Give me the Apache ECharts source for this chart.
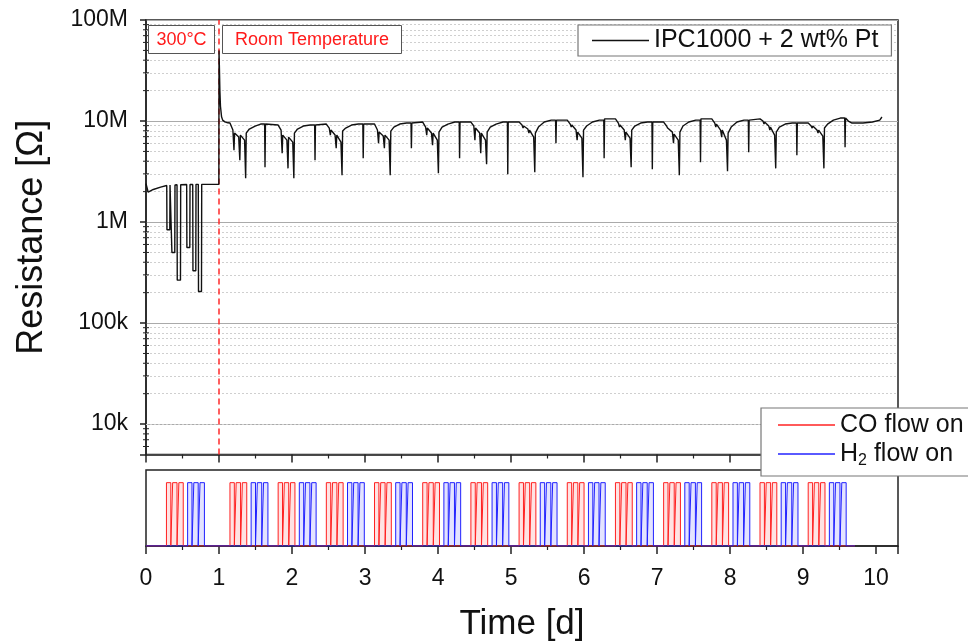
<!DOCTYPE html>
<html><head><meta charset="utf-8">
<script src="https://cdn.jsdelivr.net/npm/echarts@6/dist/echarts.min.js"></script>
<style>html,body{margin:0;padding:0;background:#fff}#c{width:968px;height:644px}</style>
</head><body><div id="c"></div>
<script>
// ---- Data (time in days, resistance in MΩ) ----
const resTime = [
  0, 0.03, 0.1, 0.2, 0.284, 0.287, 0.326, 0.329,
  0.352, 0.355, 0.394, 0.397, 0.425, 0.428, 0.472, 0.475,
  0.557, 0.56, 0.6, 0.603, 0.64, 0.643, 0.682, 0.685,
  0.716, 0.719, 0.76, 0.763, 0.9, 0.998,
  1.0, 1.005, 1.012, 1.02, 1.035, 1.05, 1.08, 1.12,
  1.15, 1.19, 1.205, 1.213, 1.27, 1.285, 1.293, 1.35, 1.365, 1.373, 1.415, 1.495, 1.57, 1.625, 1.63, 1.636,
  1.81, 1.85, 1.865, 1.873, 1.93, 1.945, 1.953, 2.01, 2.025, 2.033, 2.075, 2.155, 2.25, 2.31, 2.315, 2.321,
  2.47, 2.51, 2.525, 2.533, 2.59, 2.605, 2.613, 2.67, 2.685, 2.693, 2.735, 2.815, 2.91, 2.97, 2.975, 2.981,
  3.13, 3.17, 3.185, 3.193, 3.25, 3.265, 3.273, 3.33, 3.345, 3.353, 3.395, 3.475, 3.57, 3.63, 3.635, 3.641,
  3.79, 3.83, 3.845, 3.853, 3.91, 3.925, 3.933, 3.99, 4.005, 4.013, 4.055, 4.135, 4.23, 4.29, 4.295, 4.301,
  4.45, 4.49, 4.505, 4.513, 4.57, 4.585, 4.593, 4.65, 4.665, 4.673, 4.715, 4.795, 4.89, 4.95, 4.955, 4.961,
  5.11, 5.15, 5.165, 5.173, 5.23, 5.245, 5.253, 5.31, 5.325, 5.333, 5.375, 5.455, 5.55, 5.61, 5.615, 5.621,
  5.77, 5.81, 5.825, 5.833, 5.89, 5.905, 5.913, 5.97, 5.985, 5.993, 6.035, 6.115, 6.21, 6.27, 6.275, 6.281,
  6.43, 6.47, 6.485, 6.493, 6.55, 6.565, 6.573, 6.63, 6.645, 6.653, 6.695, 6.775, 6.87, 6.93, 6.935, 6.941,
  7.09, 7.13, 7.145, 7.153, 7.21, 7.225, 7.233, 7.29, 7.305, 7.313, 7.355, 7.435, 7.53, 7.59, 7.595, 7.601,
  7.75, 7.79, 7.805, 7.813, 7.87, 7.885, 7.893, 7.95, 7.965, 7.973, 8.015, 8.095, 8.19, 8.25, 8.255, 8.261,
  8.41, 8.45, 8.465, 8.473, 8.53, 8.545, 8.553, 8.61, 8.625, 8.633, 8.675, 8.755, 8.85, 8.91, 8.915, 8.921,
  9.07, 9.11, 9.125, 9.133, 9.19, 9.205, 9.213, 9.27, 9.285, 9.293, 9.335, 9.415, 9.51, 9.57, 9.575, 9.581,
  9.62, 9.67, 9.82, 9.95, 10.05, 10.08
];
const resValue = [
  2.40, 1.98, 2.10, 2.22, 2.30, 0.84, 0.84, 2.32,
  2.33, 0.50, 0.50, 2.33, 2.34, 0.266, 0.266, 2.34,
  2.35, 0.56, 0.56, 2.35, 2.35, 0.33, 0.33, 2.36,
  2.36, 0.205, 0.205, 2.36, 2.36, 2.37,
  50, 35, 20, 14, 11, 10.2, 9.8, 9.6,
  9.55, 8.14, 5.14, 7.60, 6.93, 4.09, 7.26, 6.47, 2.71, 7.60, 8.33, 8.92, 9.33, 9.33, 3.48, 9.33,
  9.12, 8.14, 4.80, 7.26, 6.47, 3.40, 6.93, 6.18, 2.71, 7.60, 8.33, 8.92, 9.12, 9.12, 4.09, 9.12,
  9.33, 8.52, 7.26, 8.14, 7.26, 5.39, 7.26, 6.18, 2.90, 7.95, 8.52, 9.12, 9.33, 9.33, 4.28, 9.33,
  9.33, 8.14, 6.04, 7.77, 7.10, 5.39, 7.26, 6.47, 2.90, 7.95, 8.71, 9.33, 9.55, 9.55, 5.39, 9.55,
  9.77, 8.71, 7.26, 8.52, 7.60, 5.77, 7.60, 6.47, 3.04, 7.77, 8.71, 9.33, 9.77, 9.77, 4.28, 9.77,
  9.77, 8.92, 6.47, 8.52, 7.60, 4.80, 7.60, 6.47, 3.73, 7.77, 8.71, 9.33, 9.77, 9.77, 2.97, 9.77,
  9.77, 9.12, 8.52, 8.92, 8.33, 7.60, 8.14, 6.93, 3.11, 7.60, 8.71, 9.77, 10.2, 10.2, 6.04, 10.2,
  10.2, 9.33, 8.71, 9.12, 8.14, 6.47, 7.77, 6.77, 2.77, 8.14, 8.92, 9.77, 10.2, 10.2, 4.28, 10.5,
  10.5, 9.55, 8.71, 9.12, 8.14, 6.47, 7.77, 6.77, 3.48, 8.14, 8.92, 9.55, 9.77, 9.77, 3.33, 9.77,
  9.77, 8.92, 8.52, 8.71, 7.77, 6.04, 7.43, 6.47, 2.90, 7.77, 8.92, 9.77, 10.2, 10.2, 3.91, 10.5,
  10.5, 9.55, 8.71, 9.33, 8.14, 6.93, 8.14, 6.47, 3.18, 7.60, 8.71, 9.77, 10.2, 10.2, 4.91, 10.2,
  10.5, 10.0, 9.33, 9.77, 8.92, 8.14, 8.71, 7.26, 3.40, 7.77, 8.71, 9.33, 9.55, 9.55, 4.59, 9.55,
  9.55, 8.92, 8.52, 8.92, 8.14, 7.60, 8.14, 7.10, 3.40, 8.52, 9.33, 10.2, 10.7, 10.7, 5.51, 10.7,
  10.0, 9.55, 9.55, 9.77, 10.2, 10.96
];
// gas pulse groups (start of each group of three pulses, days)
const coGroupStart = [0.28, 1.15, 1.81, 2.47, 3.13, 3.79, 4.45, 5.11, 5.77, 6.43, 7.09, 7.75, 8.41, 9.07];
const h2GroupStart = [0.57, 1.44, 2.10, 2.76, 3.42, 4.08, 4.74, 5.40, 6.06, 6.72, 7.38, 8.04, 8.70, 9.36];
const pulseOffset = [0, 0.085, 0.17];
const pulseWidth = 0.06;
const flowEnd = 9.71;
const tempSwitch = 1;
// y axis (MΩ): decade ticks and minor grid values
const yTickLabels = {'0.01': '10k', '0.1': '100k', '1': '1M', '10': '10M', '100': '100M'};
const yMinor = [0.006, 0.007, 0.008, 0.009,
  0.02, 0.03, 0.04, 0.05, 0.06, 0.07, 0.08, 0.09,
  0.2, 0.3, 0.4, 0.5, 0.6, 0.7, 0.8, 0.9,
  2, 3, 4, 5, 6, 7, 8, 9,
  20, 30, 40, 50, 60, 70, 80, 90];
const seriesName = 'IPC1000 + 2 wt% Pt';

function pulses(starts) {
  const d = [[0, 0]];
  starts.forEach(s => pulseOffset.forEach(o => {
    d.push([+(s + o).toFixed(3), 1], [+(s + o + pulseWidth).toFixed(3), 0]);
  }));
  d.push([flowEnd, 0]);
  return d;
}
const resData = resTime.map((t, i) => [t, resValue[i]]);

const FONT = 'Liberation Sans, Arial, sans-serif';
const chart = echarts.init(document.getElementById('c'), null, {renderer: 'canvas'});
const axisCol = '#222';
chart.setOption({
  animation: false,
  backgroundColor: '#fff',
  textStyle: {fontFamily: FONT},
  grid: [
    {left: 146, right: 70, top: 20, height: 434.5, show: true, borderColor: axisCol, borderWidth: 1.5, backgroundColor: 'transparent'},
    {left: 146, right: 70, top: 470, height: 76, show: true, borderColor: axisCol, borderWidth: 1.5, backgroundColor: 'transparent'}
  ],
  xAxis: [
    {gridIndex: 0, type: 'value', min: 0, max: 10.3, interval: 1,
     axisLine: {show: true, onZero: false, lineStyle: {color: axisCol, width: 1.5}},
     axisTick: {show: true, inside: false, length: 8, lineStyle: {color: axisCol, width: 1.5}},
     minorTick: {show: true, splitNumber: 2, length: 4, lineStyle: {color: axisCol, width: 1.2}},
     axisLabel: {show: false}, splitLine: {show: false}},
    {gridIndex: 1, type: 'value', min: 0, max: 10.3, interval: 1,
     name: 'Time [d]', nameLocation: 'middle', nameGap: 61,
     nameTextStyle: {fontSize: 35, color: '#111', fontFamily: FONT},
     axisLine: {show: true, onZero: false, lineStyle: {color: axisCol, width: 1.5}},
     axisTick: {show: true, inside: false, length: 8, lineStyle: {color: axisCol, width: 1.5}},
     minorTick: {show: true, splitNumber: 2, length: 4, lineStyle: {color: axisCol, width: 1.2}},
     axisLabel: {show: true, fontSize: 23, color: '#111', margin: 21, showMaxLabel: false, fontFamily: FONT,
                 formatter: v => (Math.abs(v - Math.round(v)) < 1e-6 ? String(Math.round(v)) : '')},
     splitLine: {show: false}}
  ],
  yAxis: [
    {gridIndex: 0, type: 'log', logBase: 10, min: 0.005, max: 100,
     name: 'Resistance [Ω]', nameLocation: 'middle', nameGap: 96, nameRotate: 90,
     nameTextStyle: {fontSize: 36, color: '#111', fontFamily: FONT},
     axisLine: {show: true, lineStyle: {color: axisCol, width: 1.5}},
     axisTick: {show: true, inside: false, length: 6, lineStyle: {color: axisCol, width: 1.5}},
     minorTick: {show: false},
     axisLabel: {show: true, fontSize: 23, color: '#111', margin: 18, fontFamily: FONT,
                 formatter: v => { const k = String(+v.toPrecision(3)); return yTickLabels[k] || ''; }},
     splitLine: {show: true, lineStyle: {color: '#aaa', width: 1}},
     minorSplitLine: {show: false}},
    {gridIndex: 1, type: 'value', min: 0, max: 1.2,
     axisLine: {show: false}, axisTick: {show: false}, axisLabel: {show: false}, splitLine: {show: false}}
  ],
  legend: [
    {data: [seriesName], left: 578, top: 25, orient: 'horizontal', icon: 'rect', z: 20,
     backgroundColor: '#fff', borderColor: '#777', borderWidth: 1.2,
     padding: [3, 13, 3, 14], itemWidth: 57, itemHeight: 1.5, itemGap: 10,
     textStyle: {fontSize: 25, color: '#111', fontFamily: FONT}},
    {data: ['CO flow on', 'H2 flow on'], left: 761, top: 408, orient: 'vertical', icon: 'rect', z: 20,
     backgroundColor: '#fff', borderColor: '#777', borderWidth: 1.2,
     padding: [3, 20, 7, 17], itemWidth: 57, itemHeight: 2, itemGap: 0,
     formatter: n => n === 'H2 flow on' ? '{a|H}{s|2}{a| flow on}' : '{a|' + n + '}',
     textStyle: {fontSize: 25, color: '#111', fontFamily: FONT, lineHeight: 28,
       rich: {a: {fontSize: 25, color: '#111', fontFamily: FONT, lineHeight: 28},
              s: {fontSize: 16, color: '#111', fontFamily: FONT, padding: [14, 0, 0, 0], lineHeight: 28}}}}
  ],
  series: [
    {name: seriesName, type: 'line', xAxisIndex: 0, yAxisIndex: 0, data: resData,
     showSymbol: false, symbol: 'none', color: '#111',
     lineStyle: {color: '#111', width: 1.4}, z: 3,
     markLine: {silent: true, symbol: 'none', label: {show: false}, animation: false, z: 3,
       lineStyle: {color: '#ff2a2a', type: [6, 4], width: 1.5},
       data: [{xAxis: tempSwitch}]}},
    {name: 'minor grid', type: 'line', xAxisIndex: 0, yAxisIndex: 0, data: [], z: 1,
     markLine: {silent: true, symbol: 'none', label: {show: false}, animation: false, z: 1,
       lineStyle: {color: '#cfcfcf', type: [2, 2], width: 1},
       data: yMinor.map(v => ({yAxis: v}))}},
    {name: 'minor ticks', type: 'custom', xAxisIndex: 0, yAxisIndex: 0, silent: true, z: 4,
     data: yMinor.map(v => [0, v]),
     renderItem: (params, api) => {
       const p = api.coord([api.value(0), api.value(1)]);
       return {type: 'line', shape: {x1: p[0] - 3, y1: p[1], x2: p[0] + 3, y2: p[1]},
               style: {stroke: axisCol, lineWidth: 1}};
     }},
    {name: 'CO flow on', type: 'line', xAxisIndex: 1, yAxisIndex: 1, data: pulses(coGroupStart),
     step: 'end', showSymbol: false, symbol: 'none', color: '#ff5a5a',
     lineStyle: {color: '#ff2020', width: 1}, areaStyle: {color: 'rgba(255,60,60,0.2)'}},
    {name: 'H2 flow on', type: 'line', xAxisIndex: 1, yAxisIndex: 1, data: pulses(h2GroupStart),
     step: 'end', showSymbol: false, symbol: 'none', color: '#5a5aff',
     lineStyle: {color: '#2020ff', width: 1}, areaStyle: {color: 'rgba(60,60,255,0.2)'}}
  ],
  graphic: [
    {type: 'rect', shape: {x: 148.5, y: 25.5, width: 66, height: 28}, style: {fill: '#fff', stroke: '#555', lineWidth: 1}, z: 10},
    {type: 'text', x: 181.5, y: 40, style: {text: '300°C', fill: '#ff1a1a', font: '18px ' + FONT, align: 'center', verticalAlign: 'middle'}, z: 11},
    {type: 'rect', shape: {x: 222.5, y: 25.5, width: 179, height: 28}, style: {fill: '#fff', stroke: '#555', lineWidth: 1}, z: 10},
    {type: 'text', x: 312, y: 40, style: {text: 'Room Temperature', fill: '#ff1a1a', font: '18px ' + FONT, align: 'center', verticalAlign: 'middle'}, z: 11}
  ]
});
</script></body></html>
